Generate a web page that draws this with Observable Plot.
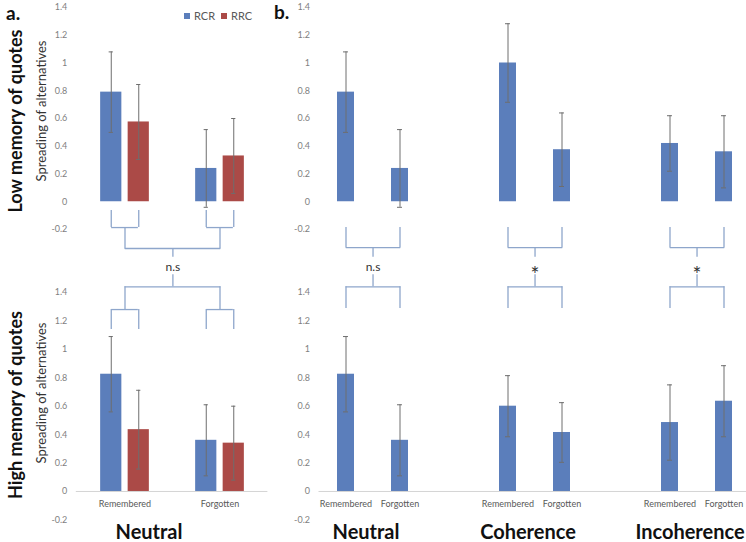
<!DOCTYPE html>
<html><head><meta charset="utf-8">
<script src="https://cdn.jsdelivr.net/npm/d3@7"></script>
<script src="https://cdn.jsdelivr.net/npm/@observablehq/plot@0.6"></script>
<style>
body{margin:0;background:#fff;}
#wrap{position:relative;width:746px;height:542px;overflow:hidden;font-family:Lato,"Open Sans",sans-serif;background:#fff;}
.lab{position:absolute;white-space:nowrap;line-height:1;}
.rot{transform:translate(-50%,-50%) rotate(-90deg);}
.legend{position:absolute;left:184px;top:9px;font-size:11px;color:#595959;display:flex;align-items:center;gap:4px;}
.sw{display:inline-block;width:6px;height:6px;}
</style></head><body><div id="wrap"></div>
<script>
// ---------- data ----------
const memoryLabels = ["Remembered", "Forgotten"];
const seriesNames = ["RCR", "RRC"];
const seriesColors = ["#5b7ebb", "#ab4a47"];
const conditions = ["Neutral", "Coherence", "Incoherence"];
const yTicks = [-0.2, 0, 0.2, 0.4, 0.6, 0.8, 1, 1.2, 1.4];

// panel a (Neutral, by recall condition)
const lowRCR = [0.79, 0.24];     const lowRCRErr = [0.29, 0.28];
const lowRRC = [0.575, 0.33];    const lowRRCErr = [0.27, 0.27];
const highRCR = [0.825, 0.36];   const highRCRErr = [0.265, 0.25];
const highRRC = [0.435, 0.34];   const highRRCErr = [0.277, 0.26];

// panel b (per condition: Remembered, Forgotten)
const lowByCondition    = [0.79, 0.24, 1.00, 0.375, 0.42, 0.36];
const lowByConditionErr = [0.29, 0.28, 0.283, 0.265, 0.20, 0.26];
const highByCondition    = [0.825, 0.36, 0.60, 0.415, 0.485, 0.635];
const highByConditionErr = [0.265, 0.25, 0.215, 0.21, 0.265, 0.25];

const leftSignificance = "n.s";
const rightSignificance = ["n.s", "*", "*"];
const rowTitles = ["Low memory of quotes", "High memory of quotes"];
const panelLetters = ["a.", "b."];
const yAxisTitle = "Spreading of alternatives";

// ---------- layout ----------
const ERR = "#6e6e6e", BR = "#8ea6cb", BASE = "#d4d4d4";
const W_L = 270, ML_L = 75.8, MR_L = 2.6;
const W_R = 501, ML_R = 68.5, MR_R = 0;
const TOP = {top: 0, height: 300, marginTop: 7, marginBottom: 71};
const BOT = {top: 262, height: 280, marginTop: 30, marginBottom: 22.6};
const BAR_L = 22, OFF_L = 13.75, CAP = 5;
const PAD_R = 1 - 17 / 54;
const leftBand = (W_L - ML_L - MR_L) / memoryLabels.length;

const rightKeys = [];
conditions.forEach((c, i) => {
  memoryLabels.forEach(m => rightKeys.push(c + "|" + m));
  if (i < conditions.length - 1) rightKeys.push("gap" + i);
});
const rightStep = (W_R - ML_R - MR_R) / rightKeys.length;
const rightBand = rightStep * (1 - PAD_R);

const wrap = document.getElementById("wrap");

function yOpts() {
  return {domain: [-0.2, 1.4], ticks: yTicks, tickFormat: d => String(+d.toFixed(1)),
          tickSize: 0, tickPadding: 9, label: null};
}
function place(svg, left, top) {
  svg.style.position = "absolute";
  svg.style.left = left + "px";
  svg.style.top = top + "px";
  svg.style.background = "transparent";
  svg.style.fontFamily = "Lato, 'Open Sans', sans-serif";
  svg.style.fontSize = "9px";
  svg.style.color = "#7f7f7f";
  svg.style.maxWidth = "none";
  wrap.appendChild(svg);
}

function leftPanel(lay, rcr, rcrErr, rrc, rrcErr, isTop) {
  const rows = [];
  memoryLabels.forEach((g, i) => {
    rows.push({group: g, v: rcr[i], e: rcrErr[i], s: -1});
    rows.push({group: g, v: rrc[i], e: rrcErr[i], s: 1});
  });
  const marks = [];
  if (!isTop) marks.push(Plot.ruleY([0], {stroke: BASE, strokeWidth: 1}));
  [-1, 1].forEach((s, k) => {
    const d = rows.filter(r => r.s === s);
    marks.push(Plot.barY(d, {x: "group", y: "v", fill: seriesColors[k],
      insetLeft: (leftBand - BAR_L) / 2, insetRight: (leftBand - BAR_L) / 2, dx: s * OFF_L}));
    marks.push(Plot.ruleX(d, {x: "group", y1: r => r.v - r.e, y2: r => r.v + r.e, dx: s * OFF_L, stroke: ERR, strokeWidth: 1}));
    for (const sign of [-1, 1]) {
      marks.push(Plot.tickY(d, {x: "group", y: r => r.v + sign * r.e, dx: s * OFF_L, stroke: ERR, strokeWidth: 1,
        insetLeft: (leftBand - CAP) / 2, insetRight: (leftBand - CAP) / 2}));
    }
  });
  // significance brackets
  const bk = {stroke: BR, strokeWidth: 1.3};
  const lv = isTop ? [-0.063, -0.186, -0.337, -0.40] : [1.14, 1.28, 1.44, 1.525];
  for (const s of [-1, 1]) {
    marks.push(Plot.ruleX(memoryLabels, {x: d => d, y1: () => lv[0], y2: () => lv[1], dx: s * OFF_L, ...bk}));
  }
  marks.push(Plot.tickY(memoryLabels, {x: d => d, y: () => lv[1],
    insetLeft: leftBand / 2 - OFF_L, insetRight: leftBand / 2 - OFF_L, ...bk}));
  marks.push(Plot.ruleX(memoryLabels, {x: d => d, y1: () => lv[1], y2: () => lv[2], ...bk}));
  marks.push(Plot.line(memoryLabels, {x: d => d, y: () => lv[2], ...bk}));
  marks.push(Plot.ruleX([memoryLabels[0]], {x: d => d, y1: () => lv[2], y2: () => lv[3], dx: leftBand / 2, ...bk}));
  if (isTop) {
    marks.push(Plot.text([leftSignificance], {x: () => memoryLabels[0], y: () => -0.47, dx: leftBand / 2,
      text: d => d, fontSize: 12, fill: "#333"}));
  } else {
    marks.push(Plot.text(memoryLabels, {x: d => d, y: () => 0, dy: 13, text: d => d, fontSize: 9, fill: "#595959"}));
    marks.push(Plot.text([conditions[0]], {x: () => memoryLabels[0], y: () => -0.2, dy: 13, dx: 24,
      text: d => d, fontSize: 20, fontWeight: "bold", fill: "#111"}));
  }
  const svg = Plot.plot({
    width: W_L, height: lay.height, marginLeft: ML_L, marginRight: MR_L,
    marginTop: lay.marginTop, marginBottom: lay.marginBottom,
    x: {type: "band", domain: memoryLabels, padding: 0, axis: null},
    y: yOpts(),
    marks
  });
  place(svg, 0, lay.top);
}

function rightPanel(lay, vals, errs, isTop) {
  const rows = [];
  conditions.forEach((c, i) => memoryLabels.forEach((m, j) =>
    rows.push({key: c + "|" + m, cond: c, mem: m, v: vals[i * 2 + j], e: errs[i * 2 + j]})));
  const marks = [];
  if (!isTop) marks.push(Plot.ruleY([0], {stroke: BASE, strokeWidth: 1}));
  marks.push(Plot.barY(rows, {x: "key", y: "v", fill: seriesColors[0]}));
  marks.push(Plot.ruleX(rows, {x: "key", y1: r => r.v - r.e, y2: r => r.v + r.e, stroke: ERR, strokeWidth: 1}));
  for (const sign of [-1, 1]) {
    marks.push(Plot.tickY(rows, {x: "key", y: r => r.v + sign * r.e, stroke: ERR, strokeWidth: 1,
      insetLeft: (rightBand - CAP) / 2, insetRight: (rightBand - CAP) / 2}));
  }
  const bk = {stroke: BR, strokeWidth: 1.3};
  const lv = isTop ? [-0.186, -0.33, -0.40] : [1.287, 1.44, 1.525];
  const remKey = c => c + "|" + memoryLabels[0];
  marks.push(Plot.ruleX(rows, {x: "key", y1: () => lv[0], y2: () => lv[1], ...bk}));
  marks.push(Plot.line(rows, {x: "key", y: () => lv[1], z: "cond", ...bk}));
  marks.push(Plot.ruleX(conditions, {x: remKey, y1: () => lv[1], y2: () => lv[2], dx: rightStep / 2, ...bk}));
  if (isTop) {
    marks.push(Plot.text(conditions, {x: remKey, y: (c, i) => rightSignificance[i] === "*" ? -0.53 : -0.47,
      dx: rightStep / 2, text: (c, i) => rightSignificance[i],
      fontSize: (c, i) => rightSignificance[i] === "*" ? 21 : 12, fill: "#333"}));
  } else {
    marks.push(Plot.text(rows, {x: "key", y: () => 0, dy: 13, text: "mem", fontSize: 9, fill: "#595959"}));
    marks.push(Plot.text(conditions, {x: remKey, y: () => -0.2, dy: 13, dx: 20,
      text: d => d, fontSize: 20, fontWeight: "bold", fill: "#111"}));
  }
  const svg = Plot.plot({
    width: W_R, height: lay.height, marginLeft: ML_R, marginRight: MR_R,
    marginTop: lay.marginTop, marginBottom: lay.marginBottom,
    x: {type: "band", domain: rightKeys, paddingInner: PAD_R, paddingOuter: PAD_R / 2, axis: null},
    y: yOpts(),
    marks
  });
  place(svg, 250, lay.top);
}

leftPanel(TOP, lowRCR, lowRCRErr, lowRRC, lowRRCErr, true);
rightPanel(TOP, lowByCondition, lowByConditionErr, true);
leftPanel(BOT, highRCR, highRCRErr, highRRC, highRRCErr, false);
rightPanel(BOT, highByCondition, highByConditionErr, false);

// ---------- text labels ----------
function addLabel(text, css, cls) {
  const el = document.createElement("div");
  el.className = "lab " + (cls || "");
  el.textContent = text;
  Object.assign(el.style, css);
  wrap.appendChild(el);
}
addLabel(panelLetters[0], {left: "6px", top: "3px", fontSize: "19px", fontWeight: "bold", color: "#111"});
addLabel(panelLetters[1], {left: "274px", top: "2px", fontSize: "19px", fontWeight: "bold", color: "#111"});
addLabel(rowTitles[0], {left: "15px", top: "121px", fontSize: "18px", fontWeight: "bold", color: "#111"}, "rot");
addLabel(rowTitles[1], {left: "15px", top: "405px", fontSize: "18px", fontWeight: "bold", color: "#111"}, "rot");
addLabel(yAxisTitle, {left: "41px", top: "111px", fontSize: "13px", color: "#333"}, "rot");
addLabel(yAxisTitle, {left: "41px", top: "393px", fontSize: "13px", color: "#333"}, "rot");

const lg = document.createElement("div");
lg.className = "legend";
seriesNames.forEach((n, i) => {
  const sw = document.createElement("span");
  sw.className = "sw"; sw.style.background = seriesColors[i];
  const t = document.createElement("span");
  t.textContent = n; t.style.marginRight = i === 0 ? "2px" : "0";
  lg.appendChild(sw); lg.appendChild(t);
});
wrap.appendChild(lg);
</script></body></html>
